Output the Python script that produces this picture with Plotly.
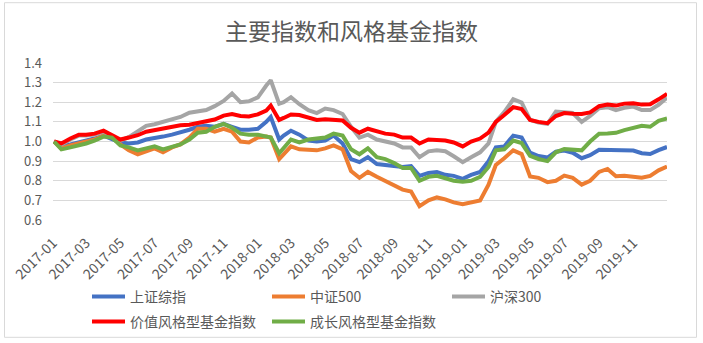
import plotly.graph_objects as go

dates = [
    "2017-01-03", "2017-01-16", "2017-02-01", "2017-02-16", "2017-03-01", "2017-03-16",
    "2017-04-01", "2017-04-16", "2017-05-01", "2017-05-16", "2017-06-01", "2017-06-16",
    "2017-07-01", "2017-07-16", "2017-08-01", "2017-08-16", "2017-09-01", "2017-09-16",
    "2017-10-01", "2017-10-16", "2017-11-01", "2017-11-16", "2017-12-01", "2017-12-16",
    "2018-01-01", "2018-01-16", "2018-01-24", "2018-02-08", "2018-02-16", "2018-03-01",
    "2018-03-16", "2018-04-01", "2018-04-16", "2018-05-01", "2018-05-16", "2018-06-01",
    "2018-06-16", "2018-07-01", "2018-07-16", "2018-08-01", "2018-08-16", "2018-09-01",
    "2018-09-16", "2018-10-01", "2018-10-16", "2018-11-01", "2018-11-16", "2018-12-01",
    "2018-12-16", "2019-01-01", "2019-01-16", "2019-02-01", "2019-02-16", "2019-03-01",
    "2019-03-16", "2019-04-01", "2019-04-16", "2019-05-01", "2019-05-16", "2019-06-01",
    "2019-06-16", "2019-07-01", "2019-07-16", "2019-08-01", "2019-08-16", "2019-09-01",
    "2019-09-16", "2019-10-01", "2019-10-16", "2019-11-01", "2019-11-16", "2019-12-01",
    "2019-12-16", "2019-12-31",
]

sse_composite = [  # 上证综指
    1.000, 0.975, 0.985, 0.995, 1.005, 1.015, 1.030, 1.015, 0.995, 0.990,
    0.995, 1.010, 1.020, 1.025, 1.035, 1.045, 1.060, 1.075, 1.080, 1.075,
    1.090, 1.075, 1.060, 1.060, 1.065, 1.100, 1.125, 1.010, 1.030, 1.055,
    1.035, 1.005, 1.000, 1.005, 1.030, 0.990, 0.910, 0.895,
    0.920, 0.885, 0.880, 0.875, 0.870, 0.875, 0.825, 0.840, 0.845, 0.830,
    0.825, 0.810, 0.830, 0.845, 0.900, 0.970, 0.975, 1.030,
    1.020, 0.943, 0.926, 0.918, 0.948, 0.954, 0.943, 0.915, 0.930, 0.958,
    0.958, 0.956, 0.953, 0.954, 0.940, 0.936, 0.956, 0.972,
]

csi500 = [  # 中证500
    1.000, 0.965, 0.980, 0.990, 1.000, 1.010, 1.030, 1.025, 0.985, 0.955,
    0.935, 0.950, 0.965, 0.945, 0.970, 0.985, 1.020, 1.065, 1.065, 1.050,
    1.065, 1.050, 1.000, 0.995, 1.020, 1.025, 1.020, 0.910, 0.935, 0.975,
    0.960, 0.960, 0.955, 0.965, 0.980, 0.960, 0.850, 0.815,
    0.845, 0.820, 0.800, 0.780, 0.755, 0.745, 0.670, 0.700, 0.715, 0.705,
    0.690, 0.680, 0.690, 0.700, 0.780, 0.880, 0.915, 0.955,
    0.936, 0.822, 0.815, 0.793, 0.800, 0.826, 0.815, 0.780, 0.800, 0.845,
    0.860, 0.823, 0.826, 0.820, 0.815, 0.825, 0.853, 0.872,
]

csi300 = [  # 沪深300
    1.000, 0.985, 1.010, 1.030, 1.030, 1.035, 1.050, 1.030, 1.005, 1.022,
    1.052, 1.080, 1.088, 1.100, 1.115, 1.125, 1.147, 1.152, 1.160, 1.180,
    1.207, 1.245, 1.200, 1.205, 1.225, 1.285, 1.312, 1.192, 1.200, 1.226,
    1.190, 1.160, 1.145, 1.168, 1.160, 1.140, 1.075, 1.020,
    1.035, 1.010, 1.000, 0.990, 0.970, 0.970, 0.920, 0.950, 0.955, 0.950,
    0.925, 0.895, 0.920, 0.945, 0.990, 1.100, 1.150, 1.215,
    1.198, 1.110, 1.097, 1.090, 1.152, 1.150, 1.145, 1.100, 1.130, 1.170,
    1.175, 1.160, 1.172, 1.178, 1.160, 1.160, 1.187, 1.223,
]

value_fund = [  # 价值风格型基金指数
    1.000, 0.990, 1.015, 1.035, 1.035, 1.040, 1.055, 1.035, 1.010, 1.020,
    1.032, 1.050, 1.058, 1.068, 1.073, 1.083, 1.085, 1.095, 1.107, 1.112,
    1.132, 1.140, 1.130, 1.128, 1.138, 1.158, 1.183, 1.110, 1.120, 1.138,
    1.135, 1.120, 1.110, 1.113, 1.110, 1.107, 1.070, 1.045,
    1.065, 1.050, 1.040, 1.035, 1.020, 1.020, 0.990, 1.010, 1.010, 1.005,
    0.995, 0.975, 1.000, 1.015, 1.045, 1.100, 1.135, 1.175,
    1.165, 1.110, 1.100, 1.093, 1.130, 1.145, 1.142, 1.140, 1.148, 1.180,
    1.188, 1.183, 1.193, 1.195, 1.188, 1.190, 1.215, 1.243,
]

growth_fund = [  # 成长风格型基金指数
    1.000, 0.960, 0.970, 0.980, 0.990, 1.005, 1.025, 1.020, 0.980, 0.970,
    0.955, 0.965, 0.975, 0.960, 0.975, 0.985, 1.010, 1.045, 1.050, 1.075,
    1.090, 1.070, 1.040, 1.035, 1.035, 1.025, 1.020, 0.940, 0.965, 1.010,
    0.995, 1.010, 1.015, 1.020, 1.040, 1.030, 0.960, 0.935,
    0.965, 0.920, 0.910, 0.890, 0.865, 0.865, 0.800, 0.820, 0.825, 0.810,
    0.800, 0.795, 0.800, 0.820, 0.870, 0.955, 0.960, 1.005,
    0.992, 0.927, 0.911, 0.900, 0.945, 0.962, 0.960, 0.955, 1.000, 1.040,
    1.041, 1.044, 1.058, 1.072, 1.080, 1.075, 1.105, 1.117,
]

series_names = ["上证综指", "中证500", "沪深300", "价值风格型基金指数", "成长风格型基金指数"]
series_values = [sse_composite, csi500, csi300, value_fund, growth_fund]
series_colors = ["#4472C4", "#ED7D31", "#A5A5A5", "#FF0000", "#70AD47"]
legend_rows = ["legend", "legend", "legend", "legend2", "legend2"]

FONT = "Noto Sans CJK SC, Liberation Sans, sans-serif"
TXT = "#595959"

fig = go.Figure()
for name, vals, col, lg in zip(series_names, series_values, series_colors, legend_rows):
    fig.add_trace(go.Scatter(x=dates, y=vals, name=name, mode="lines",
                             line=dict(color=col, width=4), legend=lg))

W, H = 703, 343
L, R, T, B = 53, 36, 63, 123
pw, ph = W - L - R, H - T - B

def px_x(x):
    return (x - L) / pw

def px_y(y):
    return (H - B - y) / ph

legend_common = dict(orientation="h", x=px_x(87), xanchor="left", yanchor="top",
                     entrywidth=132, entrywidthmode="pixels", itemwidth=33,
                     font=dict(size=14, color=TXT, family=FONT),
                     bgcolor="rgba(0,0,0,0)", traceorder="normal")

fig.update_layout(
    width=W, height=H,
    margin=dict(l=L, r=R, t=T, b=B, autoexpand=False),
    paper_bgcolor="white", plot_bgcolor="white",
    font=dict(family=FONT, color=TXT),
    title=dict(text="主要指数和风格基金指数", x=0.5, xanchor="center",
               y=1 - 32 / H, yanchor="middle",
               font=dict(size=23, color=TXT, family=FONT)),
    showlegend=True,
    legend=dict(y=px_y(281), **legend_common),
    legend2=dict(y=px_y(306), **legend_common),
    xaxis=dict(type="date", range=["2017-01-01", "2019-12-31"],
               tick0="2017-01-01", dtick="M2", tickformat="%Y-%m",
               tickangle=-45, showgrid=False, showline=False, zeroline=False,
               ticks="", ticklabelstandoff=11, automargin=False,
               tickfont=dict(size=14, color=TXT, family=FONT)),
    yaxis=dict(range=[0.6, 1.4], dtick=0.1, tick0=0.6, tickformat=".1f",
               showgrid=True, gridcolor="#D9D9D9", gridwidth=1,
               zeroline=False, showline=False, ticks="",
               ticklabelstandoff=10, automargin=False,
               tickfont=dict(size=13, color=TXT, family=FONT)),
    shapes=[dict(type="rect", xref="paper", yref="paper",
                 x0=px_x(4.5), x1=px_x(696.5), y0=px_y(337.3), y1=px_y(2.7),
                 line=dict(color="#D9D9D9", width=1), layer="below")],
)

fig.write_html("out.html")
